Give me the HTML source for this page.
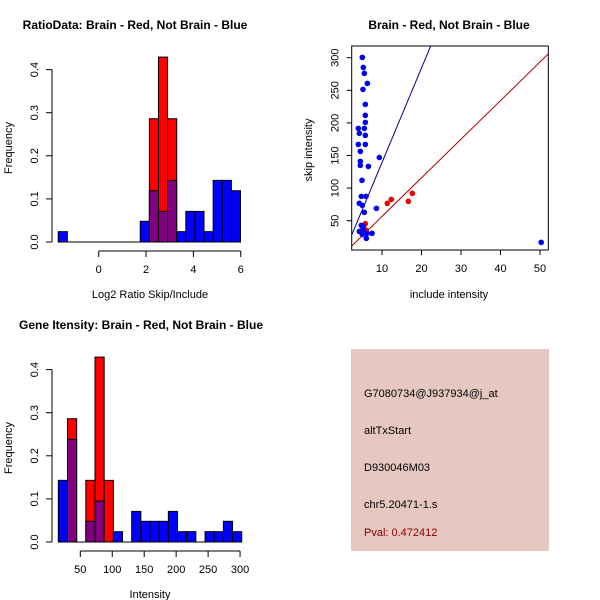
<!DOCTYPE html>
<html><head><meta charset="utf-8"><style>
html,body{margin:0;padding:0;background:#fff}
svg{display:block;font-family:"Liberation Sans",sans-serif}
</style></head><body>
<svg id="root" width="600" height="600" viewBox="0 0 600 600">
<rect width="600" height="600" fill="#fff"/>
<g id="p1"></g>
<g id="p2"></g>
<g id="p3"></g>
<g>
<rect x="351" y="349" width="198" height="202" fill="#e6c8c1"/>
<g font-size="11" fill="#000">
<text x="364" y="397">G7080734@J937934@j_at</text>
<text x="364" y="434">altTxStart</text>
<text x="364" y="471">D930046M03</text>
<text x="364" y="508">chr5.20471-1.s</text>
<text x="364" y="536" fill="#8b0000">Pval: 0.472412</text>
</g></g>
</svg>
<script>
// ---- Histogram 1 data (Log2 ratio) ----
const h1Start = -1.71;
const h1Width = 0.385;
const h1Blue = [0.024,0,0,0,0,0,0,0,0,0.048,0.119,0.071,0.143,0.024,0.071,0.071,0.024,0.143,0.143,0.119];
const h1Red  = [0,0,0,0,0,0,0,0,0,0,0.286,0.429,0.286,0,0,0,0,0,0,0];
const h1XTicks = [0,2,4,6];
const yTicks = [0,0.1,0.2,0.3,0.4];
const yTickLabels = ["0.0","0.1","0.2","0.3","0.4"];
// ---- Histogram 2 data (Intensity) ----
const h2Start = 15.6;
const h2Width = 14.35;
const h2Blue = [0.143,0.238,0,0.048,0.095,0,0.024,0,0.071,0.048,0.048,0.048,0.071,0.024,0.024,0,0.024,0.024,0.048,0.024];
const h2Red  = [0,0.286,0,0.143,0.429,0.143,0,0,0,0,0,0,0,0,0,0,0,0,0,0];
const h2XTicks = [50,100,150,200,250,300];
// ---- Scatter data ----
const blueX = [5.02,5.27,5.53,6.29,5.19,5.78,5.78,5.78,5.53,4.0,4.26,5.78,4.0,5.78,4.51,9.32,4.51,4.51,6.54,4.94,4.77,5.95,4.26,5.02,8.57,5.53,4.77,5.27,4.26,5.19,5.02,6.2,7.47,6.03,50.3];
const blueY = [300.5,285,276,260.6,251.4,228.4,211.6,200.8,191.6,191.6,184,180.9,167,167,156.3,147,141,134.9,133.3,111.9,87.3,87.3,76.6,73.5,68.9,62.8,42.8,41.3,33.6,36.7,29,30.6,30.6,22.9,16.8];
const redX = [11.35,12.36,16.67,17.68,5.78,6.03];
const redY = [76.6,82.7,79.7,91.9,45.4,35.2];
const lineBlue = [14.5,-5.8]; // slope, intercept
const lineRed = [5.92,-2.6];
const sXTicks = [10,20,30,40,50];
const sYTicks = [50,100,150,200,250,300];

const NS="http://www.w3.org/2000/svg";
function mk(parent,tag,attrs,txt){const e=document.createElementNS(NS,tag);for(const k in attrs)e.setAttribute(k,attrs[k]);if(txt!==undefined)e.textContent=txt;parent.appendChild(e);return e;}

function histogram(g,opt){
  const sx=v=>opt.x0px+(v-opt.x0v)*opt.xs;
  const sy=v=>opt.y0px-v*opt.ys;
  const n=opt.blue.length;
  for(let i=0;i<n;i++){
    const a=opt.start+i*opt.width, b=a+opt.width;
    const x=sx(a), w=sx(b)-sx(a);
    const r=opt.red[i], bl=opt.blue[i];
    if(r>0){const e=mk(g,'rect',{x:x,y:sy(r),width:w,height:sy(0)-sy(r),fill:'#ff0000',stroke:'#000','stroke-width':1});
      }
    if(bl>0){const col=r>0?'#800080':'#0000ff';
      const e=mk(g,'rect',{x:x,y:sy(bl),width:w,height:sy(0)-sy(bl),fill:col,stroke:'#000','stroke-width':1});
      }
  }
  const x0=sx(opt.start), x1=sx(opt.start+n*opt.width);
  const base=mk(g,'line',{x1:x0,x2:x1,y1:sy(0),y2:sy(0),stroke:'#000'});
  
  const ya=mk(g,'g',{});
  const ax=opt.yAxisX;
  mk(ya,'line',{x1:ax,x2:ax,y1:sy(yTicks[0]),y2:sy(yTicks[yTicks.length-1]),stroke:'#000'});
  yTicks.forEach((t,i)=>{mk(ya,'line',{x1:ax,x2:ax-6,y1:sy(t),y2:sy(t),stroke:'#000'});
    const tx=ax-14, ty=sy(t);
    mk(ya,'text',{x:tx,y:ty,'font-size':11,'text-anchor':'middle',transform:`rotate(-90 ${tx} ${ty})`},yTickLabels[i]);});
  const xa=mk(g,'g',{});
  const ay=opt.xAxisY;
  mk(xa,'line',{x1:sx(opt.xticks[0]),x2:sx(opt.xticks[opt.xticks.length-1]),y1:ay,y2:ay,stroke:'#000'});
  opt.xticks.forEach(t=>{mk(xa,'line',{x1:sx(t),x2:sx(t),y1:ay,y2:ay+6,stroke:'#000'});
    mk(xa,'text',{x:sx(t),y:ay+22,'font-size':11,'text-anchor':'middle'},String(t));});
  const xt=mk(g,'text',{x:opt.xtitleX,y:opt.xtitleY,'font-size':11,'text-anchor':'middle'},opt.xtitle);
  
  const yt=mk(g,'text',{x:12,y:opt.ytitleY,'font-size':11,'text-anchor':'middle',transform:`rotate(-90 12 ${opt.ytitleY})`},'Frequency');
  
  const ti=mk(g,'text',{x:opt.titleX,y:opt.titleY,'font-size':12,'font-weight':'bold','text-anchor':'middle'},opt.title);
  
}

histogram(document.getElementById('p1'),{start:h1Start,width:h1Width,blue:h1Blue,red:h1Red,xticks:h1XTicks,
  x0v:0,x0px:98.7,xs:23.67,y0px:242,ys:431,yAxisX:52,xAxisY:251,
  xtitle:'Log2 Ratio Skip/Include',xtitleX:150,xtitleY:298,ytitleY:148,title:'RatioData: Brain - Red, Not Brain - Blue',titleX:135,titleY:29});
histogram(document.getElementById('p3'),{start:h2Start,width:h2Width,blue:h2Blue,red:h2Red,xticks:h2XTicks,
  x0v:50,x0px:80.3,xs:0.639,y0px:542,ys:431,yAxisX:52,xAxisY:551,
  xtitle:'Intensity',xtitleX:150,xtitleY:598,ytitleY:448,title:'Gene Itensity: Brain - Red, Not Brain - Blue',titleX:141,titleY:329});

(function(){
  const g=document.getElementById('p2');
  const L=351.7,R=548.3,T=46,B=250;
  const sx=v=>382+(v-10)*3.95;
  const sy=v=>220.7-(v-50)*0.652;
  const xmin=(L-382)/3.95+10, xmax=(R-382)/3.95+10;
  const clip=mk(g,'clipPath',{id:'sc'});mk(clip,'rect',{x:L,y:T,width:R-L,height:B-T});
  const inner=mk(g,'g',{'clip-path':'url(#sc)'});
  function ln(p,col,name){const e=mk(inner,'line',{x1:sx(xmin),y1:sy(p[0]*xmin+p[1]),x2:sx(xmax),y2:sy(p[0]*xmax+p[1]),stroke:col,'stroke-width':1});
    }
  ln(lineBlue,'#00008b','blue-fit-line');
  ln(lineRed,'#b00000','red-fit-line');
  redX.forEach((x,i)=>{const c=mk(inner,'circle',{cx:sx(x),cy:sy(redY[i]),r:2.8,fill:'#ee0000'});
    });
  blueX.forEach((x,i)=>{const c=mk(inner,'circle',{cx:sx(x),cy:sy(blueY[i]),r:2.8,fill:'#0000ee'});
    });
  const box=mk(g,'rect',{x:L,y:T,width:R-L,height:B-T,fill:'none',stroke:'#000'});
  
  const xa=mk(g,'g',{});
  sXTicks.forEach(t=>{mk(xa,'line',{x1:sx(t),x2:sx(t),y1:B,y2:B+5,stroke:'#000'});
    mk(xa,'text',{x:sx(t),y:B+22,'font-size':11,'text-anchor':'middle'},String(t));});
  const ya=mk(g,'g',{});
  sYTicks.forEach(t=>{mk(ya,'line',{x1:L,x2:L-5,y1:sy(t),y2:sy(t),stroke:'#000'});
    const tx=L-13,ty=sy(t);
    mk(ya,'text',{x:tx,y:ty,'font-size':11,'text-anchor':'middle',transform:`rotate(-90 ${tx} ${ty})`},String(t));});
  const xt=mk(g,'text',{x:449,y:298,'font-size':11,'text-anchor':'middle'},'include intensity');
  
  const yt=mk(g,'text',{x:312,y:150,'font-size':11,'text-anchor':'middle',transform:'rotate(-90 312 150)'},'skip intensity');
  
  const ti=mk(g,'text',{x:449,y:29,'font-size':12,'font-weight':'bold','text-anchor':'middle'},'Brain - Red, Not Brain - Blue');
  
})();
</script>
</body></html>
